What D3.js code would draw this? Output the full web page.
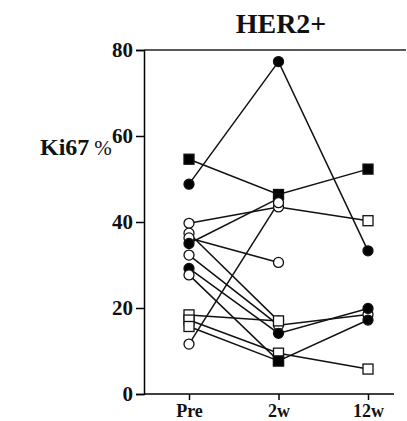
<!DOCTYPE html>
<html>
<head>
<meta charset="utf-8">
<script src="https://cdn.jsdelivr.net/npm/d3@7"></script>
<style>
  body { margin: 0; background: #fff; }
  text { font-family: "Liberation Serif", "Times New Roman", serif; }
</style>
</head>
<body>
<script>
// time points on the x axis
var times = ["Pre", "2w", "12w"];
var yTicks = [0, 20, 40, 60, 80];

// Ki67 % per patient at each time point (null = no value)
var kiPre = [54.6, 48.8, 39.7, 37.4, 36.3, 35.0, 32.3, 29.2, 27.7, 18.4, 17.2, 15.7, 11.6];
var ki2w  = [46.4, 77.3, 43.5, 17.0, 30.6, 45.5, 16.0, 14.1, 7.7, 17.0, 9.5, 7.7, 44.5];
var ki12w = [52.3, 33.3, 40.3, null, null, null, 18.5, 19.9, 17.2, null, 5.8, null, null];

// marker type: fc filled circle, oc open circle, fs filled square, os open square
var shapePre = ["fs", "fc", "oc", "oc", "oc", "fc", "oc", "fc", "oc", "os", "os", "os", "oc"];
var shape2w  = ["fs", "fc", "oc", "oc", "oc", "fc", "oc", "fc", "fs", "os", "os", "fs", "oc"];
var shape12w = ["fs", "fc", "os", null, null, null, "oc", "fc", "fc", null, "os", null, null];

var svg = d3.select("body").append("svg")
    .attr("width", 407)
    .attr("height", 421);

var x = d3.scalePoint()
    .domain(times)
    .range([189, 368]);

var y = d3.scaleLinear()
    .domain([0, 80])
    .range([394, 50]);

// build patient series
var patients = kiPre.map(function(v, i) {
  var pts = [
    {t: "Pre", v: v, s: shapePre[i]},
    {t: "2w", v: ki2w[i], s: shape2w[i]},
    {t: "12w", v: ki12w[i], s: shape12w[i]}
  ];
  return pts.filter(function(p) { return p.v != null; });
});

// frame top line
svg.append("line")
    .attr("x1", 144).attr("x2", 406)
    .attr("y1", y(80)).attr("y2", y(80))
    .attr("stroke", "#222").attr("stroke-width", 1.5);

var yAxis = d3.axisLeft(y)
    .tickValues(yTicks)
    .tickSize(8)
    .tickPadding(3);

var gy = svg.append("g")
    .attr("transform", "translate(144,0)")
    .call(yAxis);
gy.select(".domain").attr("stroke-width", 1.5);
gy.selectAll(".tick line").attr("stroke-width", 1.5);
gy.selectAll("text")
    .attr("font-family", "Liberation Serif, serif")
    .attr("font-weight", "bold")
    .attr("font-size", 21)
    .attr("fill", "#111");

var xAxis = d3.axisBottom(x)
    .tickSize(6)
    .tickPadding(4);

var gx = svg.append("g")
    .attr("transform", "translate(0,394)")
    .call(xAxis);
gx.select(".domain")
    .attr("d", "M144,0H394")
    .attr("stroke-width", 1.5);
gx.selectAll(".tick line").attr("stroke-width", 1.5);
gx.selectAll("text")
    .attr("font-family", "Liberation Serif, serif")
    .attr("font-weight", "bold")
    .attr("font-size", 18)
    .attr("fill", "#111");

// patient lines
var line = d3.line()
    .x(function(d) { return x(d.t); })
    .y(function(d) { return y(d.v); });

svg.append("g").selectAll("path")
    .data(patients)
    .enter()
    .append("path")
    .attr("d", line)
    .attr("fill", "none")
    .attr("stroke", "#111")
    .attr("stroke-width", 1.5);

// markers
var allPts = [];
patients.forEach(function(p) { p.forEach(function(d) { allPts.push(d); }); });

var marks = svg.append("g").selectAll("g")
    .data(allPts)
    .enter()
    .append("g")
    .attr("transform", function(d) { return "translate(" + x(d.t) + "," + y(d.v) + ")"; });

marks.filter(function(d) { return d.s == "fc" || d.s == "oc"; })
    .append("circle")
    .attr("r", 5)
    .attr("fill", function(d) { return d.s == "fc" ? "#000" : "#fff"; })
    .attr("stroke", "#111")
    .attr("stroke-width", 1.3);

marks.filter(function(d) { return d.s == "fs" || d.s == "os"; })
    .append("rect")
    .attr("x", -5).attr("y", -5)
    .attr("width", 10).attr("height", 10)
    .attr("fill", function(d) { return d.s == "fs" ? "#000" : "#fff"; })
    .attr("stroke", "#111")
    .attr("stroke-width", 1.3);

// title
svg.append("text")
    .attr("x", 281)
    .attr("y", 33)
    .attr("text-anchor", "middle")
    .attr("font-weight", "bold")
    .attr("font-size", 28)
    .attr("fill", "#111")
    .text("HER2+");

// y label
var lab = svg.append("text")
    .attr("x", 40)
    .attr("y", 155)
    .attr("fill", "#111");
lab.append("tspan").attr("font-weight", "bold").attr("font-size", 24).text("Ki67");
lab.append("tspan").attr("dx", 5).attr("font-size", 21).text("%");
</script>
</body>
</html>
